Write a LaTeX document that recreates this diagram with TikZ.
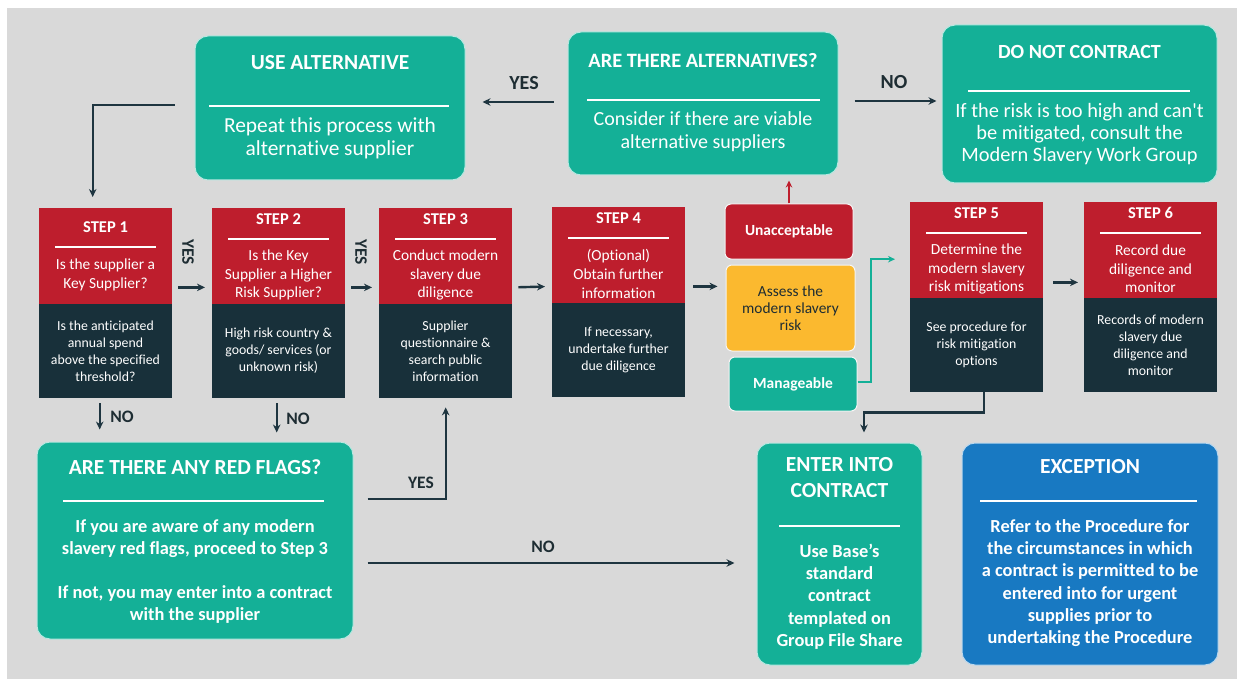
\documentclass[tikz,border=0pt]{standalone}
\usepackage{fontspec}
\setmainfont[Ligatures=NoCommon]{Carlito}
\usetikzlibrary{arrows.meta}

\definecolor{bggrey}{HTML}{D9D9D9}
\definecolor{boxteal}{HTML}{14B097}
\definecolor{stepred}{HTML}{BE1E2D}
\definecolor{stepdark}{HTML}{18303A}
\definecolor{riskamber}{HTML}{FBB92F}
\definecolor{excblue}{HTML}{1879C2}
\definecolor{arrowdark}{HTML}{1E3540}
\definecolor{labeldark}{HTML}{1E2D33}

\begin{document}
\begin{tikzpicture}[
    x=1pt, y=-1pt,
    greenbox/.style={fill=boxteal, draw=white!70!boxteal, line width=1pt, rounded corners=13pt, inner sep=0pt},
    bluebox/.style={greenbox, fill=excblue, draw=white!70!excblue},
    riskbox/.style={draw=white!75!bggrey, line width=1pt, rounded corners=6pt, inner sep=0pt, align=center},
    headcell/.style={fill=stepred, anchor=north west, inner sep=0pt, minimum width=133pt, minimum height=96pt},
    bodycell/.style={fill=stepdark, anchor=north west, inner sep=0pt, minimum width=133pt, minimum height=94pt},
    toptitle/.style={text=white, font=\fontsize{20.4}{24}\selectfont\bfseries, align=center, inner sep=0pt},
    toptext/.style={text=white, font=\fontsize{20.2}{23}\selectfont, align=center, inner sep=0pt},
    lowtitle/.style={toptitle, font=\fontsize{21.5}{26}\selectfont\bfseries},
    lowtext/.style={toptext, font=\fontsize{18.4}{22.3}\selectfont\bfseries},
    steplabel/.style={text=white, font=\fontsize{16.5}{18}\selectfont\bfseries, inner sep=0pt},
    stephead/.style={text=white, font=\fontsize{15.4}{18.7}\selectfont, align=center, inner sep=0pt},
    stepbody/.style={text=white, font=\fontsize{13.8}{17}\selectfont, align=center, inner sep=0pt},
    sepline/.style={white, line width=1.6pt},
    arr/.style={arrowdark, line width=2.4pt, -{Stealth[length=8pt, width=7.5pt]}},
    flowlabel/.style={text=labeldark, font=\fontsize{17.5}{20}\selectfont\bfseries, inner sep=0pt},
    biglabel/.style={flowlabel, font=\fontsize{20}{24}\selectfont\bfseries},
]
\useasboundingbox (0,0) rectangle (1237,679);
\fill[white] (0,0) rectangle (1237,679);
\fill[bggrey] (7,8) rectangle (1237,679);

% top row
\node[greenbox, minimum width=270pt, minimum height=144pt] (usealt) at (330,108) {};
\node[toptitle, font=\fontsize{21.5}{24}\selectfont\bfseries] (usealttitle) at (330,63) {USE ALTERNATIVE};
\draw[sepline] (209,106) -- (449,106);
\node[toptext, font=\fontsize{21.4}{23}\selectfont] (usealttext) at (330,138.5) {Repeat this process with\\alternative supplier};

\node[greenbox, minimum width=270pt, minimum height=143pt] (alts) at (703,103.5) {};
\node[toptitle] (altstitle) at (703,61) {ARE THERE ALTERNATIVES?};
\draw[sepline] (587,100) -- (820,100);
\node[toptext, font=\fontsize{20}{23}\selectfont] (altstext) at (703,131.5) {Consider if there are viable\\alternative suppliers};

\node[greenbox, minimum width=275pt, minimum height=158pt] (donot) at (1079.5,104) {};
\node[toptitle, font=\fontsize{20.1}{24}\selectfont\bfseries] (donottitle) at (1079.5,52) {DO NOT CONTRACT};
\draw[sepline] (968,91) -- (1190,91);
\node[toptext, font=\fontsize{20.4}{22}\selectfont] (donottext) at (1079.5,134) {If the risk is too high and can\textquotesingle t\\be mitigated, consult the\\Modern Slavery Work Group};

% bottom row
\node[greenbox, minimum width=316pt, minimum height=197pt] (redflags) at (195,540.5) {};
\node[lowtitle] (redflagstitle) at (195,467) {ARE THERE ANY RED FLAGS?};
\draw[sepline] (63,501) -- (324,501);
\node[lowtext] (redflagstext) at (195,571.5) {If you are aware of any modern\\slavery red flags, proceed to Step 3\\[22pt]If not, you may enter into a contract\\with the supplier};

\node[greenbox, minimum width=165pt, minimum height=222pt] (enter) at (839.5,554) {};
\node[lowtitle] (entertitle) at (839.5,478) {ENTER INTO\\CONTRACT};
\draw[sepline] (779,526) -- (900,526);
\node[lowtext] (entertext) at (839.5,596.5) {Use Base’s\\standard\\contract\\templated on\\Group File Share};

\node[bluebox, minimum width=256pt, minimum height=222pt] (except) at (1090,554) {};
\node[lowtitle] (excepttitle) at (1090,467) {EXCEPTION};
\draw[sepline] (980,501) -- (1197,501);
\node[lowtext] (excepttext) at (1090,583) {Refer to the Procedure for\\the circumstances in which\\a contract is permitted to be\\entered into for urgent\\supplies prior to\\undertaking the Procedure};

% steps
\foreach \i/\xl/\yt/\dy/\head/\body in {
    1/39/208/8/{Is the supplier a\\Key Supplier?}/{Is the anticipated\\annual spend\\above the specified\\threshold?},
    2/212/208/0/{Is the Key\\Supplier a Higher\\Risk Supplier?}/{High risk country \&\\goods/ services (or\\unknown risk)},
    3/379/208/0/{Conduct modern\\slavery due\\diligence}/{Supplier\\questionnaire \&\\search public\\information},
    4/552/207/0/{(Optional)\\Obtain further\\information}/{If necessary,\\undertake further\\due diligence},
    5/910/202/0/{Determine the\\modern slavery\\risk mitigations}/{See procedure for\\risk mitigation\\options},
    6/1084/202/0/{Record due\\diligence and\\monitor}/{Records of modern\\slavery due\\diligence and\\monitor}} {
    \node[headcell] (head\i) at (\xl,\yt) {};
    \node[bodycell] (body\i) at (\xl,\yt+96) {};
    \node[steplabel] (steplabel\i) at (\xl+66.5,\yt+11+\dy) {STEP \i};
    \draw[sepline] (\xl+16,\yt+31+\dy) -- (\xl+117,\yt+31+\dy);
    \node[stephead] (question\i) at (\xl+66.5,\yt+67) {\head};
    \node[stepbody] (detail\i) at (\xl+66.5,\yt+143) {\body};
}

% risk assessment
\node[riskbox, fill=stepred, minimum width=128pt, minimum height=55pt, text=white,
    font=\fontsize{15.5}{18}\selectfont\bfseries] (unacc) at (789,231.5) {Unacceptable};
\node[riskbox, fill=riskamber, minimum width=129pt, minimum height=86pt, text=labeldark,
    font=\fontsize{15.4}{17}\selectfont] (assess) at (790.5,308) {Assess the\\modern slavery\\risk};
\node[riskbox, fill=boxteal, minimum width=128pt, minimum height=54pt, text=white,
    font=\fontsize{15.5}{18}\selectfont\bfseries] (manage) at (793,384) {Manageable};

% connectors
\draw[arr, shorten <=20pt, shorten >=11pt] ([yshift=3pt]usealt.west) -| ([xshift=-13pt]head1.north);
\draw[arr, shorten <=14pt, shorten >=17pt] ([yshift=1.5pt]alts.west) -- ([yshift=1.5pt]alts.west -| usealt.east);
\node[biglabel] (yestop) at (524,83) {YES};
\draw[arr, shorten <=16pt, shorten >=5pt] ([yshift=2.5pt]alts.east) -- ([yshift=2.5pt]alts.east -| donot.west);
\node[biglabel] (notop) at (894,82) {NO};

\foreach \a/\b in {1/2, 2/3, 3/4}
    \draw[arr, shorten <=6pt, shorten >=7pt] ([yshift=17pt]head\a.south east) -- ([yshift=17pt]head\b.south west);
\node[flowlabel, rotate=-90] (yesone) at (188,252) {YES};
\node[flowlabel, rotate=-90] (yestwo) at (361,252) {YES};
\draw[arr, shorten <=8pt, shorten >=8pt] ([yshift=17pt]head4.south east) -- ([yshift=17pt]head4.south east -| assess.west);
\draw[arr, shorten <=10pt, shorten >=6pt] ([yshift=16pt]head5.south east) -- ([yshift=16pt]head6.south west);

\draw[stepred, line width=2pt, -{Stealth[length=7pt, width=6.5pt]}, shorten >=5pt] (unacc.north) -- (unacc.north |- alts.south);
\draw[boxteal, line width=2pt, -{Stealth[length=7pt, width=6.5pt]}, shorten >=15pt] ([yshift=2pt]manage.east) -- ++(13,0) |- ([yshift=-9pt]head5.west);
\draw[arr, shorten >=10pt] ([xshift=7.5pt]body5.south) -- ++(0,20) -| ([xshift=24.5pt]enter.north);

\draw[arr, shorten <=5pt, shorten >=12pt] ([xshift=-6pt]body1.south) -- ([xshift=-6pt]body1.south |- redflags.north);
\node[flowlabel] (noone) at (122,417) {NO};
\draw[arr, shorten <=5pt, shorten >=9pt] ([xshift=-2pt]body2.south) -- ([xshift=-2pt]body2.south |- redflags.north);
\node[flowlabel] (notwo) at (298,419) {NO};

\draw[arr, shorten <=14pt, shorten >=9pt] ([yshift=41.5pt]redflags.east) -| (body3.south);
\node[flowlabel] (yesflag) at (421,483) {YES};
\draw[arr, shorten <=14pt, shorten >=22pt] ([yshift=-22.5pt]redflags.east) -- ([yshift=-22.5pt]redflags.east -| enter.west);
\node[flowlabel] (noflag) at (543,547) {NO};
\end{tikzpicture}
\end{document}
